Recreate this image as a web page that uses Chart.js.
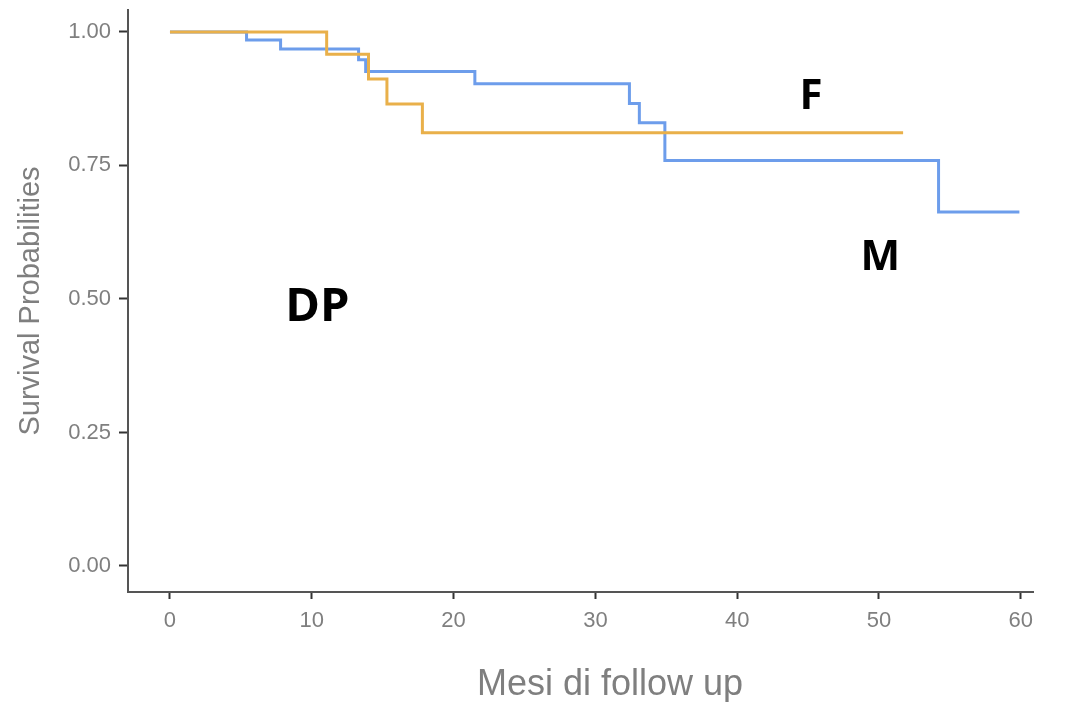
<!DOCTYPE html>
<html>
<head>
<meta charset="utf-8">
<title>Survival - DP</title>
<script src="https://cdn.jsdelivr.net/npm/chart.js@4.4.1/dist/chart.umd.min.js"></script>
<style>
    html, body { margin: 0; padding: 0; background: #fff; }
    #wrap { width: 1071px; height: 702px; position: relative; }
</style>
</head>
<body>
<div id="wrap"><canvas id="kmChart"></canvas></div>
<script>
// ---- data ----
var mTimes = [0, 5.4, 7.8, 13.3, 13.8, 21.5, 32.4, 33.1, 34.9, 54.2, 59.9];
var mSurv  = [1, 0.985, 0.968, 0.948, 0.926, 0.903, 0.866, 0.830, 0.759, 0.663, 0.663];

var fTimes = [0, 11.05, 14.0, 15.3, 17.8, 51.7];
var fSurv  = [1, 0.958, 0.912, 0.865, 0.811, 0.811];

var xTicks = [0, 10, 20, 30, 40, 50, 60];
var yTicks = [0, 0.25, 0.5, 0.75, 1];

var labelText = ['F', 'M', 'DP'];
var labelX    = [45.2, 50.1, 10.4];
var labelY    = [0.878, 0.577, 0.483];
var labelSize = [42, 42, 47];

var xTitle = 'Mesi di follow up';

function toPoints(xs, ys) {
    return xs.map(function (t, i) { return { x: t, y: ys[i] }; });
}

var grey = '#7f7f7f';

// free text labels placed in data space, plus the x title (sits off-centre in the original)
var textLabels = {
    id: 'textLabels',
    afterDatasetsDraw: function (chart) {
        var ctx = chart.ctx;
        ctx.save();
        ctx.fillStyle = '#000';
        ctx.textAlign = 'center';
        ctx.textBaseline = 'middle';
        labelText.forEach(function (txt, i) {
            ctx.font = 'bold ' + labelSize[i] + 'px "Open Sans"';
            ctx.fillText(txt,
                chart.scales.x.getPixelForValue(labelX[i]),
                chart.scales.y.getPixelForValue(labelY[i]));
        });
        ctx.fillStyle = grey;
        ctx.font = '36px "Liberation Sans"';
        ctx.fillText(xTitle, 610, 685);
        ctx.restore();
    }
};

new Chart(document.getElementById('kmChart'), {
    type: 'line',
    data: {
        datasets: [{
            label: 'F',
            data: toPoints(fTimes, fSurv),
            borderColor: '#e9b04a',
            borderWidth: 3,
            stepped: true,
            pointRadius: 0,
            fill: false
        }, {
            label: 'M',
            data: toPoints(mTimes, mSurv),
            borderColor: '#6d9deb',
            borderWidth: 3,
            stepped: true,
            pointRadius: 0,
            fill: false
        }]
    },
    options: {
        responsive: true,
        maintainAspectRatio: false,
        animation: false,
        layout: { padding: { top: 10, right: 38, bottom: 0, left: 0 } },
        plugins: {
            legend: { display: false },
            tooltip: { enabled: false }
        },
        scales: {
            x: {
                type: 'linear',
                min: -2.96,
                max: 60.86,
                afterBuildTicks: function (scale) {
                    scale.ticks = xTicks.map(function (v) { return { value: v }; });
                },
                afterFit: function (scale) { scale.height = 110; },
                grid: {
                    drawOnChartArea: false,
                    drawTicks: true,
                    tickLength: 7,
                    tickWidth: 2,
                    tickColor: '#333'
                },
                border: { display: true, color: '#555', width: 2 },
                ticks: {
                    autoSkip: false,
                    maxRotation: 0,
                    padding: 9,
                    color: grey,
                    font: { family: 'Liberation Sans', size: 22 }
                }
            },
            y: {
                type: 'linear',
                min: -0.0487,
                max: 1.041,
                afterBuildTicks: function (scale) {
                    scale.ticks = yTicks.map(function (v) { return { value: v }; });
                },
                afterFit: function (scale) {
                    scale.width = 128;
                    scale.paddingTop = 0;
                    scale.paddingBottom = 0;
                },
                grid: {
                    drawOnChartArea: false,
                    drawTicks: true,
                    tickLength: 9,
                    tickWidth: 2,
                    tickColor: '#333'
                },
                border: { display: true, color: '#555', width: 2 },
                ticks: {
                    autoSkip: false,
                    padding: 8,
                    color: grey,
                    font: { family: 'Liberation Sans', size: 22 },
                    callback: function (v) { return Number(v).toFixed(2); }
                },
                title: {
                    display: true,
                    text: 'Survival Probabilities',
                    color: grey,
                    font: { family: 'Liberation Sans', size: 29 },
                    padding: { top: 14, bottom: 0 }
                }
            }
        }
    },
    plugins: [textLabels]
});
</script>
</body>
</html>
